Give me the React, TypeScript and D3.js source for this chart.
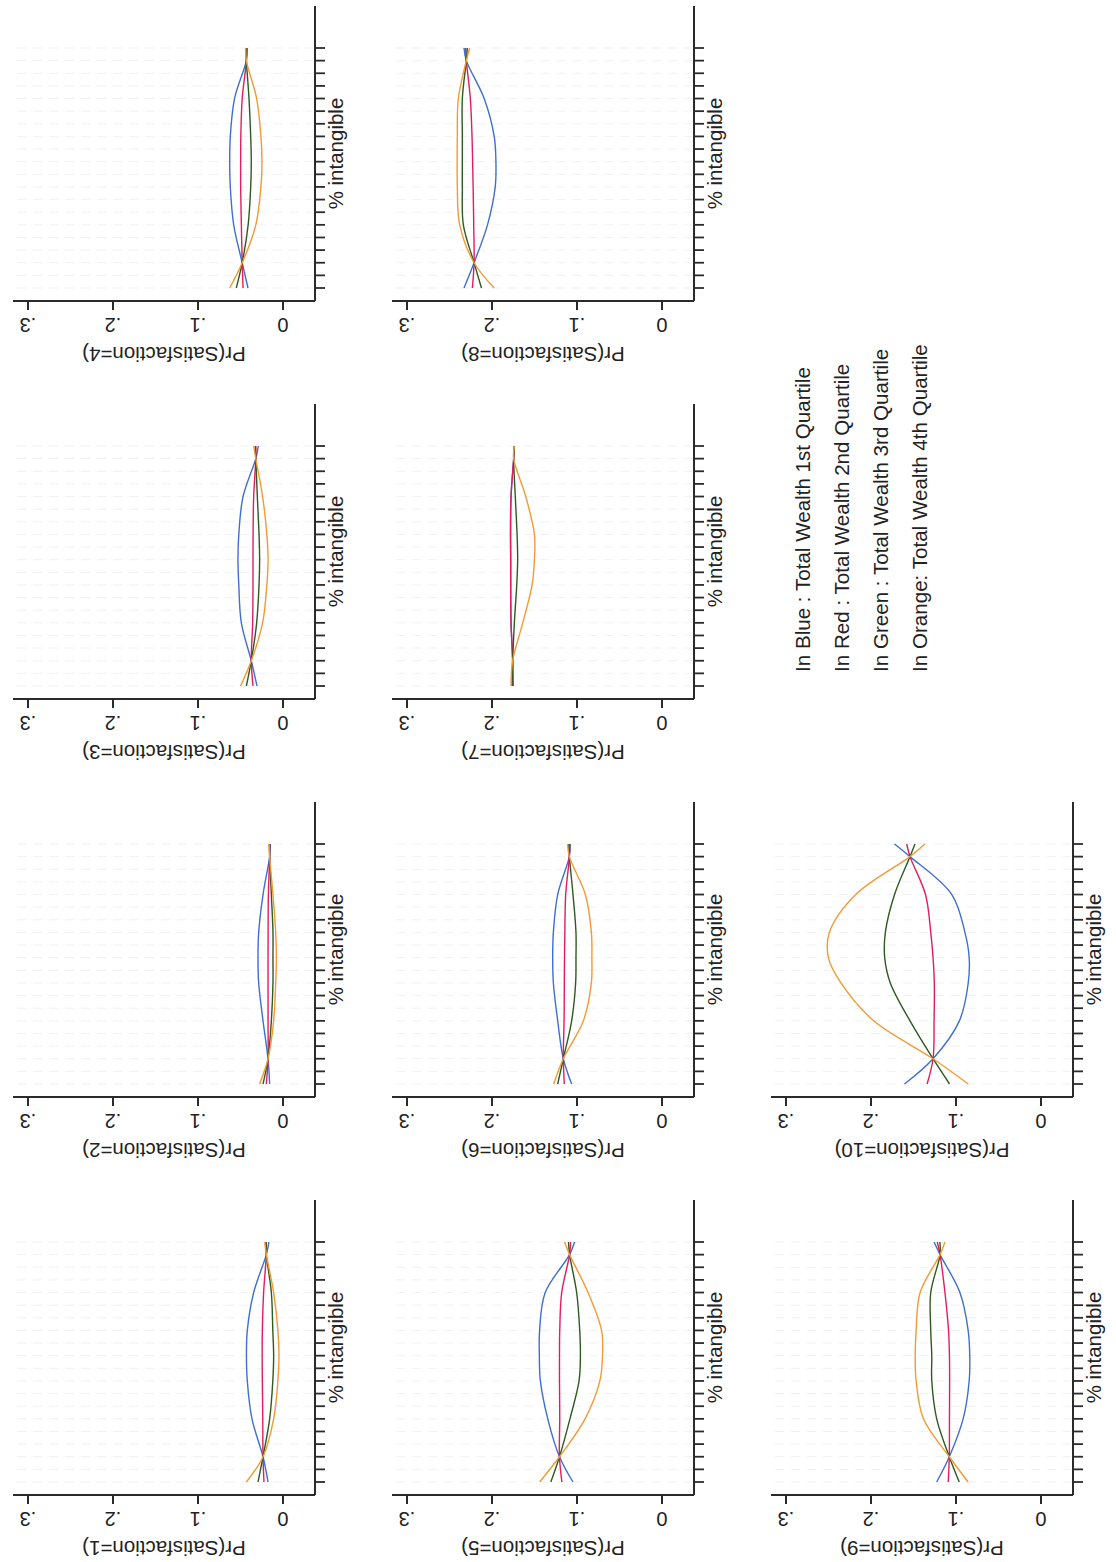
import React from "react";
import * as d3 from "d3";

// % intangible sample positions (x) and tick positions
const XS = [0, 10, 25, 40, 50, 60, 75, 90, 95];
const X_TICKS = [0, 5, 10, 15, 20, 25, 30, 35, 40, 45, 50, 55, 60, 65, 70, 75, 80, 85, 90, 95];
const Y_TICKS = [0, 0.1, 0.2, 0.3];
const Y_TICK_LABELS = ["0", ".1", ".2", ".3"];

const PANEL_LABELS = [
  "Pr(Satisfaction=1)", "Pr(Satisfaction=2)", "Pr(Satisfaction=3)", "Pr(Satisfaction=4)",
  "Pr(Satisfaction=5)", "Pr(Satisfaction=6)", "Pr(Satisfaction=7)", "Pr(Satisfaction=8)",
  "Pr(Satisfaction=9)", "Pr(Satisfaction=10)",
];

// Blue: Total Wealth 1st Quartile (one row per panel)
const BLUE = [
  [0.0176, 0.0235, 0.0365, 0.042, 0.043, 0.042, 0.0345, 0.0196, 0.0165],
  [0.0157, 0.0176, 0.0235, 0.0286, 0.0294, 0.0286, 0.0235, 0.0157, 0.0149],
  [0.0306, 0.0373, 0.049, 0.052, 0.053, 0.052, 0.047, 0.032, 0.029],
  [0.0412, 0.048, 0.058, 0.062, 0.0627, 0.062, 0.057, 0.0431, 0.042],
  [0.1047, 0.1206, 0.1344, 0.1431, 0.1443, 0.144, 0.1374, 0.1087, 0.1028],
  [0.1063, 0.1161, 0.1227, 0.1278, 0.1286, 0.1278, 0.1227, 0.109, 0.1078],
  [0.1749, 0.1757, 0.1776, 0.178, 0.178, 0.1784, 0.1776, 0.1745, 0.1737],
  [0.2329, 0.2211, 0.2053, 0.1962, 0.1954, 0.1974, 0.2092, 0.2302, 0.2329],
  [0.1227, 0.1079, 0.0916, 0.0845, 0.0838, 0.0857, 0.0954, 0.1188, 0.1258],
  [0.1607, 0.127, 0.096, 0.0856, 0.0845, 0.0895, 0.1049, 0.1541, 0.1723],
];
// Red: Total Wealth 2nd Quartile
const RED = [
  [0.0224, 0.0235, 0.0238, 0.0243, 0.0245, 0.0243, 0.0228, 0.0196, 0.0196],
  [0.0196, 0.0176, 0.0176, 0.0176, 0.0176, 0.0175, 0.0172, 0.0157, 0.0157],
  [0.0353, 0.0373, 0.0357, 0.0353, 0.0353, 0.0352, 0.0345, 0.032, 0.032],
  [0.047, 0.048, 0.049, 0.0498, 0.0498, 0.0496, 0.048, 0.0431, 0.0431],
  [0.1178, 0.1206, 0.1203, 0.1206, 0.1206, 0.1203, 0.118, 0.1087, 0.1075],
  [0.1149, 0.1161, 0.1152, 0.1149, 0.1147, 0.1143, 0.1133, 0.109, 0.109],
  [0.1757, 0.1757, 0.1776, 0.178, 0.178, 0.178, 0.1776, 0.1745, 0.1737],
  [0.2231, 0.2211, 0.2215, 0.2222, 0.2228, 0.2235, 0.2255, 0.2302, 0.231],
  [0.1091, 0.1079, 0.1077, 0.1075, 0.1077, 0.1088, 0.113, 0.1188, 0.122],
  [0.134, 0.127, 0.1258, 0.1255, 0.127, 0.1297, 0.1359, 0.1541, 0.158],
];
// Green: Total Wealth 3rd Quartile
const GREEN = [
  [0.0294, 0.0235, 0.0157, 0.012, 0.011, 0.012, 0.0137, 0.0196, 0.02],
  [0.0235, 0.0176, 0.0137, 0.0118, 0.0118, 0.0118, 0.0137, 0.0157, 0.016],
  [0.0431, 0.0373, 0.031, 0.0282, 0.0275, 0.0282, 0.0302, 0.032, 0.0325],
  [0.0549, 0.048, 0.041, 0.038, 0.0373, 0.038, 0.04, 0.0431, 0.0435],
  [0.1308, 0.1206, 0.1083, 0.0976, 0.096, 0.0968, 0.1004, 0.1087, 0.11],
  [0.1227, 0.1161, 0.1063, 0.1016, 0.1012, 0.1012, 0.1047, 0.109, 0.11],
  [0.1765, 0.1757, 0.1737, 0.1709, 0.1698, 0.1705, 0.1726, 0.1745, 0.1737],
  [0.2124, 0.2211, 0.2337, 0.2349, 0.2349, 0.2349, 0.2349, 0.2302, 0.229],
  [0.0962, 0.1079, 0.1227, 0.1285, 0.1285, 0.1297, 0.1297, 0.1188, 0.119],
  [0.1076, 0.127, 0.1541, 0.1773, 0.1839, 0.1831, 0.1723, 0.1541, 0.1483],
];
// Orange: Total Wealth 4th Quartile
const ORANGE = [
  [0.0431, 0.0235, 0.011, 0.006, 0.0047, 0.006, 0.011, 0.0196, 0.0215],
  [0.0275, 0.0176, 0.011, 0.0086, 0.0078, 0.0086, 0.0118, 0.0157, 0.0165],
  [0.05, 0.0373, 0.024, 0.019, 0.0176, 0.019, 0.024, 0.032, 0.0345],
  [0.0627, 0.048, 0.032, 0.026, 0.0247, 0.026, 0.031, 0.0431, 0.044],
  [0.1439, 0.1206, 0.0905, 0.0731, 0.07, 0.0711, 0.087, 0.1087, 0.1146],
  [0.1275, 0.1161, 0.0925, 0.0831, 0.0825, 0.0831, 0.0902, 0.109, 0.111],
  [0.1776, 0.1757, 0.1638, 0.1528, 0.1501, 0.1501, 0.1603, 0.1745, 0.1737],
  [0.1974, 0.2211, 0.238, 0.2408, 0.241, 0.2408, 0.2396, 0.2302, 0.2262],
  [0.0857, 0.1079, 0.1383, 0.1469, 0.148, 0.1469, 0.1422, 0.1188, 0.113],
  [0.0856, 0.127, 0.1967, 0.2354, 0.2501, 0.249, 0.218, 0.1541, 0.1367],
];

const LEGEND_LINES = [
  "In Blue : Total Wealth 1st Quartile",
  "In Red : Total Wealth 2nd Quartile",
  "In Green : Total Wealth 3rd Quartile",
  "In Orange: Total Wealth 4th Quartile",
];

const SERIES = [
  { data: BLUE, color: "#3f6fd0" },
  { data: RED, color: "#e21d5c" },
  { data: GREEN, color: "#2f5a22" },
  { data: ORANGE, color: "#f39a35" },
];

const FONT = "'Liberation Sans', Arial, Helvetica, sans-serif";
const AXIS = "#2b2b2b";

function Panel({ index }: { index: number }) {
  const col = index % 4;
  const row = Math.floor(index / 4);
  const L = 67 + 398 * col;
  const R = L + 295;
  const oy = 379 * row;
  const T = 13 + oy;
  const B = 315 + oy;

  const x = d3.scaleLinear().domain([0, 95]).range([L + 13, L + 253]);
  const y = d3.scaleLinear().domain([0, 0.3]).range([283 + oy, 28 + oy]);

  const line = d3
    .line<number>()
    .x((_, i) => x(XS[i]))
    .y((v) => y(v))
    .curve(d3.curveCatmullRom.alpha(0.5));

  return (
    <g>
      {X_TICKS.map((t) => (
        <line key={"g" + t} x1={x(t)} x2={x(t)} y1={T + 4} y2={B - 2} stroke="#f1f1f1" strokeWidth={1} strokeDasharray="9 7" />
      ))}
      {SERIES.map((s, si) => (
        <path key={si} d={line(s.data[index]) || ""} fill="none" stroke={s.color} strokeWidth={1.4} />
      ))}
      {/* y axis */}
      <line x1={L} x2={L} y1={T} y2={B} stroke={AXIS} strokeWidth={2} />
      {Y_TICKS.map((t, i) => (
        <g key={"y" + t}>
          <line x1={L - 9} x2={L} y1={y(t)} y2={y(t)} stroke={AXIS} strokeWidth={2} />
          <text
            transform={`translate(${L - 17},${y(t)}) rotate(-90)`}
            textAnchor="middle"
            fontSize={20}
            fontFamily={FONT}
            fill="#222"
          >
            {Y_TICK_LABELS[i]}
          </text>
        </g>
      ))}
      <text
        transform={`translate(${L - 46},${(T + B) / 2}) rotate(-90)`}
        textAnchor="middle"
        fontSize={20.5}
        fontFamily={FONT}
        fill="#222"
      >
        {PANEL_LABELS[index]}
      </text>
      {/* x axis */}
      <line x1={L} x2={R} y1={B} y2={B} stroke={AXIS} strokeWidth={2} />
      {X_TICKS.map((t) => (
        <line key={"x" + t} x1={x(t)} x2={x(t)} y1={B} y2={B + 10} stroke={AXIS} strokeWidth={1.8} />
      ))}
      <text x={(L + R) / 2} y={B + 28} textAnchor="middle" fontSize={20.5} fontFamily={FONT} fill="#222">
        % intangible
      </text>
    </g>
  );
}

export default function App() {
  return (
    <svg
      width={1116}
      height={1562}
      style={{ position: "absolute", left: 0, top: 0, background: "#fff" }}
    >
      <rect width={1116} height={1562} fill="#fff" />
      <g transform="translate(0,1562) rotate(-90)">
        {PANEL_LABELS.map((_, i) => (
          <Panel key={i} index={i} />
        ))}
        {LEGEND_LINES.map((t, i) => (
          <text key={i} x={890} y={810 + 39 * i} fontSize={20.6} fontFamily={FONT} fill="#222">
            {t}
          </text>
        ))}
      </g>
    </svg>
  );
}
